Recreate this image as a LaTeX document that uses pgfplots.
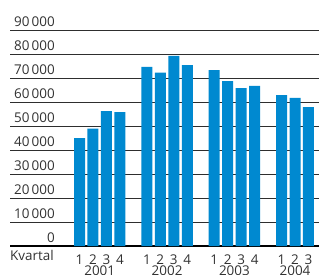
\documentclass[border=0pt]{standalone}
\usepackage{pgfplots}
\pgfplotsset{compat=1.18}
\usepackage{fontspec}
\setmainfont{Open Sans}
\definecolor{barblue}{RGB}{0,137,208}
\definecolor{txt}{RGB}{50,50,50}
\begin{document}
\begin{tikzpicture}
\useasboundingbox (0,0) rectangle (319bp,275bp);
\begin{axis}[
  at={(10bp,29bp)}, anchor=south west,
  scale only axis, width=309bp, height=216bp,
  xmin=-4.16, xmax=18.78, ymin=0, ymax=90000,
  clip=false,
  scaled y ticks=false,
  axis line style={draw=none},
  tick style={draw=none},
  ybar, bar width=11bp,
  ytick={0,10000,20000,30000,40000,50000,60000,70000,80000,90000},
  yticklabels={0,10\,000,20\,000,30\,000,40\,000,50\,000,60\,000,70\,000,80\,000,90\,000},
  ymajorgrids, grid style={black!82, line width=0.8bp},
  extra y ticks={0}, extra y tick labels={},
  extra y tick style={grid style={black, line width=2bp}},
  xtick={1,2,3,4,6,7,8,9,11,12,13,14,16,17,18},
  xticklabels={1,2,3,4,1,2,3,4,1,2,3,4,1,2,3},
  extra x ticks={2.5,7.5,12.5,17},
  extra x tick labels={2001,2002,2003,2004},
  extra x tick style={xticklabel style={yshift=-11.5bp}},
  ticklabel style={font=\fontsize{13.5}{14}\selectfont, text=txt},
  /pgf/number format/assume math mode=true,
  yticklabel style={anchor=south east, inner sep=0pt, xshift=45bp, yshift=3bp},
  xticklabel style={anchor=north, inner sep=0pt, yshift=-4bp},
]
\addplot[fill=barblue, draw=none] coordinates {
 (1,45000) (2,48900) (3,56200) (4,55800)
 (6,74600) (7,72200) (8,79200) (9,75400)
 (11,73300) (12,68700) (13,65800) (14,66700)
 (16,62900) (17,61700) (18,57900)
};
\node[anchor=north west, inner sep=0pt, text=txt, font=\fontsize{13.5}{14}\selectfont] at (rel axis cs:0,0) [yshift=-4bp] {Kvartal};
\end{axis}
\end{tikzpicture}
\end{document}
